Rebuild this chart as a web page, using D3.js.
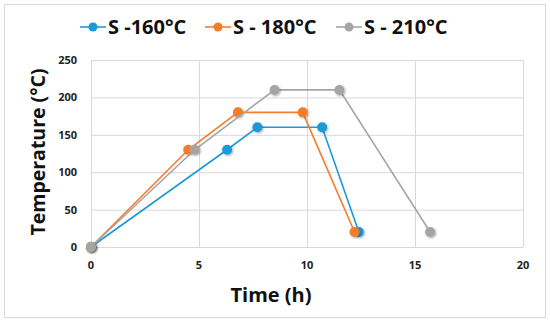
<!DOCTYPE html>
<html>
<head>
<meta charset="utf-8">
<style>
body { margin: 0; background: #fff; }
text { font-family: "Open Sans", "DejaVu Sans", sans-serif; font-weight: bold; }
</style>
</head>
<body>
<script src="https://d3js.org/d3.v7.min.js"></script>
<script>
'use strict'

const w = 550
const h = 322

const seriesNames = ['S -160°C', 'S - 180°C', 'S - 210°C']
const seriesColors = ['#1b9ad8', '#f47d2a', '#a5a5a5']
const timeS160 = [0, 6.3, 7.7, 10.7, 12.4]
const tempS160 = [0, 130, 160, 160, 20]
const timeS180 = [0, 4.5, 6.8, 9.8, 12.2]
const tempS180 = [0, 130, 180, 180, 20]
const timeS210 = [0, 4.8, 8.5, 11.5, 15.7]
const tempS210 = [0, 130, 210, 210, 20]
const xTicks = [0, 5, 10, 15, 20]
const yTicks = [0, 50, 100, 150, 200, 250]

const series = [
  { name: seriesNames[0], color: seriesColors[0], pts: timeS160.map((t, i) => [t, tempS160[i]]) },
  { name: seriesNames[1], color: seriesColors[1], pts: timeS180.map((t, i) => [t, tempS180[i]]) },
  { name: seriesNames[2], color: seriesColors[2], pts: timeS210.map((t, i) => [t, tempS210[i]]) }
]

const svg = d3.select('body').append('svg')
  .attr('width', w)
  .attr('height', h)

// outer frame
svg.append('rect')
  .attr('x', 4.5).attr('y', 4.5)
  .attr('width', 541).attr('height', 313)
  .attr('fill', '#fff')
  .attr('stroke', '#d9d9d9')

const x = d3.scaleLinear().domain([0, 20]).range([91, 523])
const y = d3.scaleLinear().domain([0, 250]).range([247, 60])

// grid
svg.append('g').selectAll('line').data(yTicks).enter().append('line')
  .attr('x1', x(0)).attr('x2', x(20))
  .attr('y1', d => y(d) + 0.5).attr('y2', d => y(d) + 0.5)
  .attr('stroke', '#d9d9d9').attr('stroke-width', 1)
svg.append('g').selectAll('line').data(xTicks).enter().append('line')
  .attr('x1', d => x(d) + 0.5).attr('x2', d => x(d) + 0.5)
  .attr('y1', y(0)).attr('y2', y(250))
  .attr('stroke', '#d9d9d9').attr('stroke-width', 1)

// tick labels
svg.append('g').selectAll('text').data(yTicks).enter().append('text')
  .attr('x', 77).attr('y', d => y(d) + 4)
  .attr('text-anchor', 'end')
  .attr('font-size', '11px')
  .attr('fill', '#222')
  .text(d => d)
svg.append('g').selectAll('text').data(xTicks).enter().append('text')
  .attr('x', d => x(d)).attr('y', 269)
  .attr('text-anchor', 'middle')
  .attr('font-size', '11px')
  .attr('fill', '#222')
  .text(d => d)

// axis titles
svg.append('text')
  .attr('x', 271).attr('y', 302)
  .attr('text-anchor', 'middle')
  .attr('font-size', '20px')
  .attr('fill', '#111')
  .text('Time (h)')
svg.append('text')
  .attr('transform', 'translate(45,152) rotate(-90)')
  .attr('text-anchor', 'middle')
  .attr('font-size', '19.5px')
  .attr('fill', '#111')
  .text('Temperature (°C)')

// shadow for markers
const defs = svg.append('defs')
const f = defs.append('filter').attr('id', 'sh').attr('x', '-50%').attr('y', '-50%').attr('width', '200%').attr('height', '200%')
f.append('feDropShadow').attr('dx', 1).attr('dy', 1).attr('stdDeviation', 1).attr('flood-color', '#000').attr('flood-opacity', 0.35)

const line = d3.line().x(d => x(d[0])).y(d => y(d[1]))

series.forEach(s => {
  const g = svg.append('g')
  g.append('path')
    .attr('d', line(s.pts))
    .attr('fill', 'none')
    .attr('stroke', s.color)
    .attr('stroke-width', 1.6)
  g.selectAll('circle').data(s.pts).enter().append('circle')
    .attr('cx', d => x(d[0])).attr('cy', d => y(d[1]))
    .attr('r', 5)
    .attr('fill', s.color)
    .attr('filter', 'url(#sh)')
})

// legend
const legX = [80, 205, 336]
series.forEach((s, i) => {
  const g = svg.append('g').attr('transform', `translate(${legX[i]},27)`)
  g.append('line').attr('x1', 0).attr('x2', 26).attr('y1', 0).attr('y2', 0)
    .attr('stroke', s.color).attr('stroke-width', 1.6)
  g.append('circle').attr('cx', 13).attr('cy', 0).attr('r', 4.5).attr('fill', s.color)
  g.append('text').attr('x', 28).attr('y', 7)
    .attr('font-size', '20px')
    .attr('fill', '#111')
    .text(s.name)
})
</script>
</body>
</html>
